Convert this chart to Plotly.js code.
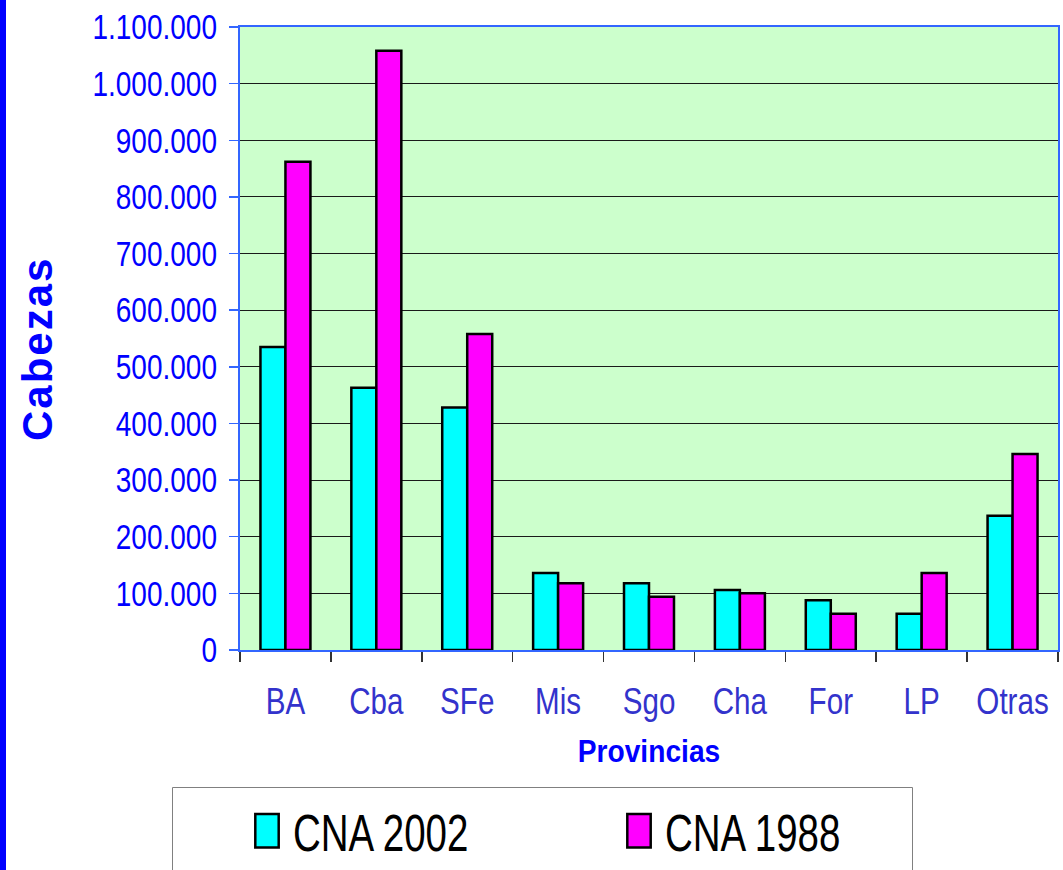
<!DOCTYPE html>
<html>
<head>
<meta charset="utf-8">
<script src="https://cdn.plot.ly/plotly-3.0.1.min.js"></script>
<style>
  html, body { margin: 0; padding: 0; background: #ffffff; }
  #leftbar { position: absolute; left: 0; top: 0; width: 6px; height: 870px; background: #0000ff; z-index: 5; }
  #chart { width: 1063px; height: 870px; }
  .annotation-text { letter-spacing: 2px; }
  .legendpoints path { transform: translate(14px, 0) scale(1.95, 2.8); vector-effect: non-scaling-stroke; }
</style>
</head>
<body>
<div id="leftbar"></div>
<div id="chart"></div>
<script>
const categories = ["BA", "Cba", "SFe", "Mis", "Sgo", "Cha", "For", "LP", "Otras"];
const cna2002 = [535000, 463000, 428000, 136000, 118000, 106000, 88000, 64000, 237000];
const cna1988 = [862000, 1058000, 558000, 118000, 94000, 100000, 64000, 136000, 346000];
const seriesNames = ["CNA 2002", "CNA 1988"];
const yTickVals = [0, 100000, 200000, 300000, 400000, 500000, 600000, 700000, 800000, 900000, 1000000, 1100000];
const yTitle = "Cabezas";
const xTitle = "Provincias";

const sans = '"Liberation Sans", Arial, sans-serif';

const W = 1063, H = 870;
const margin = {l: 240, r: 5, t: 27, b: 220, autoexpand: false};
const pw = W - margin.l - margin.r, ph = H - margin.t - margin.b;
const px2x = p => (p - margin.l) / pw;
const px2y = p => (H - margin.b - p) / ph;

const traces = [
  {type: 'bar', name: seriesNames[0], x: categories, y: cna2002,
   marker: {color: '#00ffff', line: {color: '#000000', width: 2.5}}, hoverinfo: 'x+y'},
  {type: 'bar', name: seriesNames[1], x: categories, y: cna1988,
   marker: {color: '#ff00ff', line: {color: '#000000', width: 2.5}}, hoverinfo: 'x+y'}
];

const layout = {
  width: W, height: H,
  margin: margin,
  paper_bgcolor: '#ffffff',
  plot_bgcolor: '#ccffcc',
  separators: ',.',
  barmode: 'group',
  bargap: 0.45,
  bargroupgap: 0,
  showlegend: true,
  legend: {
    orientation: 'h',
    x: px2x(253), xanchor: 'left',
    y: px2y(831), yanchor: 'middle',
    bgcolor: 'rgba(0,0,0,0)',
    borderwidth: 0,
    font: {family: sans, size: 52, color: '#000000'},
    entrywidth: 327, entrywidthmode: 'pixels',
    traceorder: 'normal'
  },
  xaxis: {
    type: 'category',
    automargin: false,
    tickson: 'boundaries',
    tickangle: 0,
    ticks: 'outside', ticklen: 10, tickwidth: 1.5, tickcolor: '#333333',
    ticklabelstandoff: 18,
    tickfont: {family: sans, size: 37, color: '#3333cc'},
    showline: true, linecolor: '#3366ff', linewidth: 2, mirror: true,
    showgrid: false,
    title: {text: xTitle, font: {family: sans, size: 32, color: '#0000ff', weight: 'bold'}, standoff: 18}
  },
  yaxis: {
    automargin: false,
    range: [0, 1100000],
    tickvals: yTickVals,
    tickformat: ',d',
    ticks: 'outside', ticklen: 9, tickwidth: 1.5, tickcolor: '#3366ff',
    ticklabelstandoff: 5,
    tickfont: {family: sans, size: 35, color: '#0000ff'},
    showline: true, linecolor: '#3366ff', linewidth: 2, mirror: true,
    showgrid: true, gridcolor: '#1a1a1a', gridwidth: 1,
    zeroline: false
  },
  annotations: [{
    text: yTitle, textangle: -90, showarrow: false,
    xref: 'paper', yref: 'paper', x: px2x(38), y: px2y(349),
    xanchor: 'center', yanchor: 'middle',
    font: {family: sans, size: 42, color: '#0000ff', weight: 'bold'}
  }],
  shapes: [{
    type: 'rect', xref: 'paper', yref: 'paper',
    x0: px2x(172.5), x1: px2x(912.5), y0: px2y(787.5), y1: px2y(875),
    line: {color: '#808080', width: 1}, fillcolor: 'rgba(0,0,0,0)', layer: 'below'
  }]
};

function squeeze(selector, ratio) {
  document.querySelectorAll(selector).forEach(t => {
    const L = t.getComputedTextLength();
    if (L > 0) {
      t.setAttribute('textLength', (L * ratio).toFixed(2));
      t.setAttribute('lengthAdjust', 'spacingAndGlyphs');
    }
  });
}

Plotly.newPlot('chart', traces, layout, {displayModeBar: false, staticPlot: true}).then(() => {
  squeeze('#chart .ytick text', 0.8);
  squeeze('#chart .xtick text', 0.8);
  squeeze('#chart .g-xtitle text', 0.88);
  squeeze('#chart .legendtext', 0.74);
});
</script>
</body>
</html>
